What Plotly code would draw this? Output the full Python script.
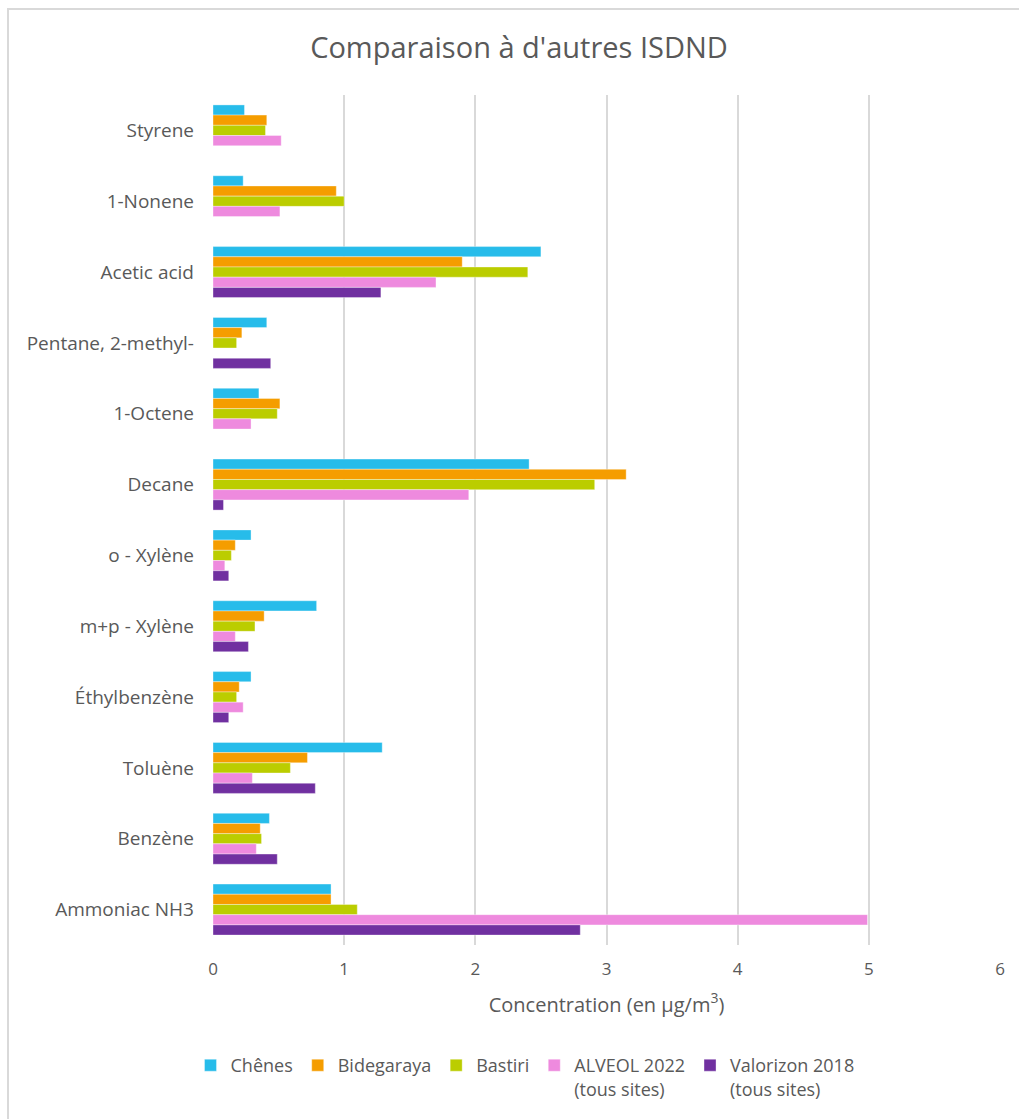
import plotly.graph_objects as go

categories = ["Styrene", "1-Nonene", "Acetic acid", "Pentane, 2-methyl-", "1-Octene",
              "Decane", "o - Xylène", "m+p - Xylène", "Éthylbenzène", "Toluène",
              "Benzène", "Ammoniac NH3"]

series_names = ["Chênes", "Bidegaraya", "Bastiri", "ALVEOL 2022<br>(tous sites)",
                "Valorizon 2018<br>(tous sites)"]

chenes     = [0.24, 0.23, 2.50, 0.41, 0.35, 2.41, 0.29, 0.79, 0.29, 1.29, 0.43, 0.90]
bidegaraya = [0.41, 0.94, 1.90, 0.22, 0.51, 3.15, 0.17, 0.39, 0.20, 0.72, 0.36, 0.90]
bastiri    = [0.40, 1.00, 2.40, 0.18, 0.49, 2.91, 0.14, 0.32, 0.18, 0.59, 0.37, 1.10]
alveol     = [0.52, 0.51, 1.70, None, 0.29, 1.95, 0.09, 0.17, 0.23, 0.30, 0.33, 4.99]
valorizon  = [None, None, 1.28, 0.44, None, 0.08, 0.12, 0.27, 0.12, 0.78, 0.49, 2.80]

x_ticks = [0, 1, 2, 3, 4, 5, 6]

colors = ["#27BCEA", "#F59D00", "#BBCD00", "#EE8ADE", "#7030A0"]
all_values = [chenes, bidegaraya, bastiri, alveol, valorizon]

FONT = "Open Sans"
GRAY = "#595959"

fig = go.Figure()
for name, vals, col in zip(series_names, all_values, colors):
    fig.add_trace(go.Bar(
        y=categories, x=vals, name=name, orientation="h",
        marker=dict(color=col, line=dict(color="rgba(255,255,255,0.6)", width=0.6)),
    ))

fig.update_layout(
    width=1019, height=1119,
    margin=dict(l=213, r=19, t=95, b=174),
    paper_bgcolor="white", plot_bgcolor="white",
    barmode="group", bargap=0.28, bargroupgap=0,
    font=dict(family=FONT, color=GRAY),
    title=dict(text="Comparaison à d'autres ISDND", x=519/1019, xanchor="center",
               y=1 - 48/1119, yanchor="middle", yref="container",
               font=dict(size=29, color=GRAY, family=FONT)),
    legend=dict(orientation="h", xref="container", x=525/1019, xanchor="center",
                yref="container", y=1 - 1047/1119, yanchor="top",
                font=dict(size=18, color=GRAY, family=FONT), valign="top",
                traceorder="normal", itemwidth=30),
    showlegend=True,
)

fig.update_xaxes(range=[0, 6], tickvals=x_ticks, showgrid=True, gridcolor="#D9D9D9",
                 gridwidth=1.5, zeroline=False, showline=False,
                 tickfont=dict(size=17, color=GRAY), ticklabelstandoff=12,
                 title=dict(text="Concentration (en µg/m<sup>3</sup>)",
                            font=dict(size=20, color=GRAY), standoff=18))
fig.update_yaxes(autorange="reversed", showgrid=False, showline=False, zeroline=False,
                 tickfont=dict(size=19, color=GRAY), ticklabelstandoff=18)

# chart border (light gray)
fig.add_shape(type="rect", xref="paper", yref="paper",
              x0=(8 - 213) / 787, x1=1.1, y0=-0.3, y1=(945 - 9) / 850,
              line=dict(color="#D9D9D9", width=2), fillcolor="rgba(0,0,0,0)", layer="below")

fig.write_html("out.html")
